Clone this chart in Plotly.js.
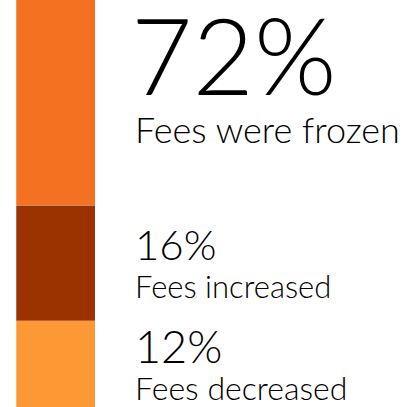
<!DOCTYPE html>
<html>
<head>
<meta charset="utf-8">
<script src="https://cdn.plot.ly/plotly-3.0.1.min.js"></script>
<style>html,body{margin:0;padding:0;background:#fff;}#chart{width:405px;height:407px;}</style>
</head>
<body>
<div id="chart"></div>
<script>
const categories = ["Fees decreased", "Fees increased", "Fees were frozen"];
const values = [12, 16, 72];
const colors = ["#FD9935", "#9A3300", "#F37121"];
const pctLabels = ["12%", "16%", "72%"];

const traces = categories.map((c, i) => ({
  type: "bar",
  x: [0],
  y: [values[i]],
  name: c,
  width: 1,
  marker: {color: colors[i], line: {color: "rgba(255,255,255,0.5)", width: 0.5}},
  hoverinfo: "none"
}));

const font = "Lato, 'Open Sans', sans-serif";
// label positions (paper coords) for bottom-to-top order
const pctPos = [{x: 133, y: 1 - 346/407, size: 45}, {x: 133, y: 1 - 244/407, size: 42}, {x: 129, y: 1 - 54/407, size: 106}];
const txtPos = [{x: 133, y: 1 - 387/407, size: 32}, {x: 133, y: 1 - 286/407, size: 31}, {x: 133, y: 1 - 129/407, size: 36}];

const annotations = [];
categories.forEach((c, i) => {
  annotations.push({
    xref: "paper", yref: "paper", x: pctPos[i].x/405, y: pctPos[i].y,
    xanchor: "left", yanchor: "middle", showarrow: false,
    text: pctLabels[i],
    font: {family: font, size: pctPos[i].size, color: "#000", weight: 300}
  });
  annotations.push({
    xref: "paper", yref: "paper", x: txtPos[i].x/405, y: txtPos[i].y,
    xanchor: "left", yanchor: "middle", showarrow: false,
    text: c,
    font: {family: font, size: txtPos[i].size, color: "#000", weight: 300}
  });
});

const layout = {
  width: 405, height: 407,
  margin: {l: 0, r: 0, t: 0, b: 0},
  barmode: "stack",
  showlegend: false,
  paper_bgcolor: "#fff", plot_bgcolor: "#fff",
  xaxis: {range: [-0.7025, 4.424], visible: false, fixedrange: true},
  yaxis: {range: [0, 56.5], visible: false, fixedrange: true},
  annotations: annotations
};

Plotly.newPlot("chart", traces, layout, {staticPlot: true, displayModeBar: false});
</script>
</body>
</html>
